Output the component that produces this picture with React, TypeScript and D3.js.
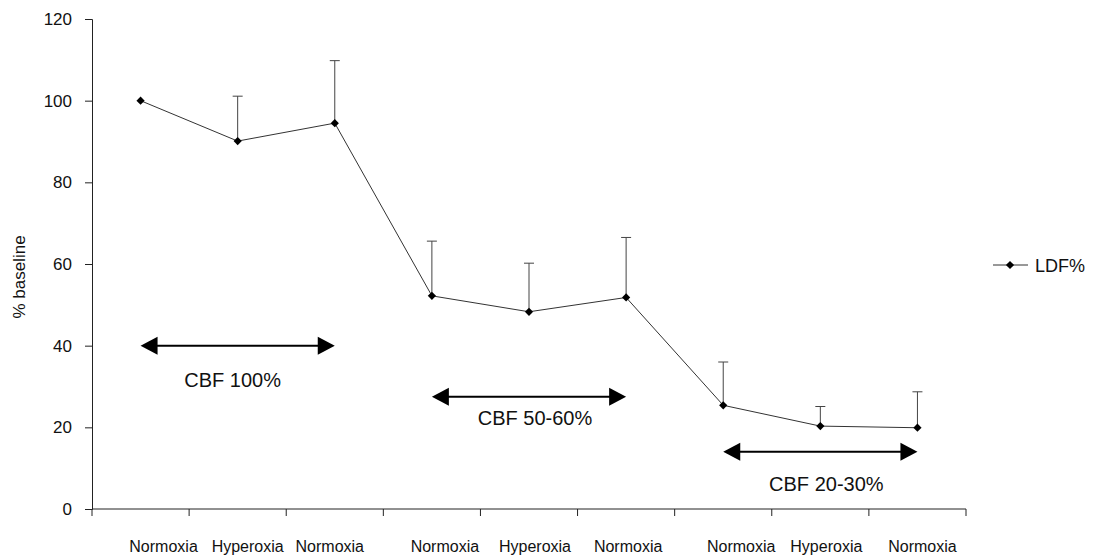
import React, { useEffect, useRef } from 'react';
import * as d3 from 'd3';

const categories = [
  'Normoxia', 'Hyperoxia', 'Normoxia',
  'Normoxia', 'Hyperoxia', 'Normoxia',
  'Normoxia', 'Hyperoxia', 'Normoxia',
];
const ldf = [100, 90.1, 94.5, 52.2, 48.3, 51.8, 25.4, 20.3, 19.9];
const ldfUpper: (number | null)[] = [null, 101.1, 109.8, 65.6, 60.2, 66.5, 36, 25.1, 28.7];
const yTicks = [0, 20, 40, 60, 80, 100, 120];
const cbfLabels = ['CBF 100%', 'CBF 50-60%', 'CBF 20-30%'];
const cbfLevel = [40, 27.5, 14];
const cbfSpan = [[0, 2], [3, 5], [6, 8]];
const seriesName = 'LDF%';

// hand-placed label nudges in the original
const labelShift = [23, 10, -5, 13, 6, 2, 18, 6, 5];
const cbfTextDx = [-5, 6, 6];
const cbfTextDy = [41, 28, 39];

const W = 1097;
const H = 555;
const FONT = '"Liberation Sans", Arial, sans-serif';

const App: React.FC = () => {
  const ref = useRef<SVGSVGElement>(null);

  useEffect(() => {
    const svg = d3.select(ref.current);
    svg.selectAll('*').remove();

    const x = d3.scaleBand<number>().domain(d3.range(categories.length)).range([92, 966]);
    const y = d3.scaleLinear().domain([0, 120]).range([509, 19]);
    const cx = (i: number) => (x(i) as number) + x.bandwidth() / 2;

    // y axis
    const ya = svg.append('g').attr('transform', `translate(${x.range()[0]},0)`)
      .call(d3.axisLeft(y).tickValues(yTicks).tickSize(7).tickPadding(13));
    ya.select('.domain').attr('stroke', '#222');
    ya.selectAll('.tick line').attr('stroke', '#222');
    ya.selectAll('.tick text').attr('font-family', FONT).attr('font-size', 17).attr('fill', '#111');

    // x axis: ticks at band edges
    const edges = d3.range(categories.length + 1).map((i) => x.range()[0] + i * x.step());
    const xa = svg.append('g');
    xa.append('line').attr('x1', edges[0]).attr('x2', edges[edges.length - 1])
      .attr('y1', y(0)).attr('y2', y(0)).attr('stroke', '#222');
    xa.selectAll('line.tk').data(edges).enter().append('line').attr('class', 'tk')
      .attr('x1', (d) => d).attr('x2', (d) => d).attr('y1', y(0)).attr('y2', y(0) + 7)
      .attr('stroke', '#222');
    xa.selectAll('text').data(categories).enter().append('text')
      .attr('x', (_d, i) => cx(i) + labelShift[i]).attr('y', 552)
      .attr('text-anchor', 'middle').attr('font-family', FONT).attr('font-size', 16)
      .attr('fill', '#111').text((d) => d);

    // y title
    svg.append('text').attr('transform', `translate(25,277) rotate(-90)`)
      .attr('text-anchor', 'middle').attr('font-family', FONT).attr('font-size', 17)
      .attr('fill', '#111').text('% baseline');

    // error bars (upper only)
    const eb = svg.append('g').attr('stroke', '#444').attr('stroke-width', 1);
    ldfUpper.forEach((u, i) => {
      if (u == null) return;
      eb.append('line').attr('x1', cx(i)).attr('x2', cx(i)).attr('y1', y(ldf[i])).attr('y2', y(u));
      eb.append('line').attr('x1', cx(i) - 5).attr('x2', cx(i) + 5).attr('y1', y(u)).attr('y2', y(u));
    });

    // series line
    const line = d3.line<number>().x((_d, i) => cx(i)).y((d) => y(d));
    svg.append('path').attr('d', line(ldf) as string).attr('fill', 'none')
      .attr('stroke', '#333').attr('stroke-width', 1);

    const diamond = d3.symbol().type(d3.symbolSquare).size(34);
    svg.selectAll('path.pt').data(ldf).enter().append('path').attr('class', 'pt')
      .attr('d', diamond() as string)
      .attr('transform', (d, i) => `translate(${cx(i)},${y(d)}) rotate(45)`)
      .attr('fill', '#000');

    // CBF range arrows
    const head = 17;
    const half = 9;
    cbfSpan.forEach(([a, b], k) => {
      const x1 = cx(a);
      const x2 = cx(b);
      const yy = y(cbfLevel[k]);
      const g = svg.append('g');
      g.append('line').attr('x1', x1 + head - 2).attr('x2', x2 - head + 2)
        .attr('y1', yy).attr('y2', yy).attr('stroke', '#000').attr('stroke-width', 2);
      g.append('path').attr('d', `M${x1},${yy} L${x1 + head},${yy - half} L${x1 + head},${yy + half} Z`).attr('fill', '#000');
      g.append('path').attr('d', `M${x2},${yy} L${x2 - head},${yy - half} L${x2 - head},${yy + half} Z`).attr('fill', '#000');
      g.append('text').attr('x', (x1 + x2) / 2 + cbfTextDx[k]).attr('y', yy + cbfTextDy[k])
        .attr('text-anchor', 'middle').attr('font-family', FONT).attr('font-size', 20)
        .attr('fill', '#111').text(cbfLabels[k]);
    });

    // legend
    const lg = svg.append('g').attr('transform', 'translate(993,265)');
    lg.append('line').attr('x1', 0).attr('x2', 35).attr('y1', 0).attr('y2', 0)
      .attr('stroke', '#333').attr('stroke-width', 1);
    lg.append('path').attr('d', diamond() as string).attr('transform', 'translate(17,0) rotate(45)').attr('fill', '#000');
    lg.append('text').attr('x', 42).attr('y', 6.5).attr('font-family', FONT).attr('font-size', 18)
      .attr('fill', '#111').text(seriesName);
  }, []);

  return (
    <svg ref={ref} width={W} height={H}
      style={{ position: 'absolute', left: 0, top: 0, background: '#fff' }} />
  );
};

export default App;
